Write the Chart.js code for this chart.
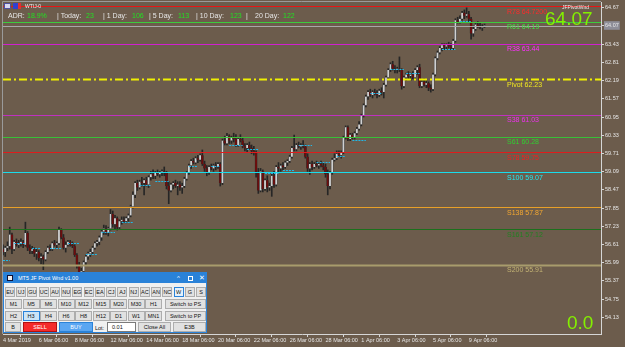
<!DOCTYPE html>
<html>
<head>
<meta charset="utf-8">
<script src="https://cdn.jsdelivr.net/npm/chart.js@4.4.1/dist/chart.umd.min.js"></script>
<style>
  html, body { margin: 0; padding: 0; background: #6c5c4c; }
  #wrap { position: relative; width: 625px; height: 347px; overflow: hidden; font-family: "Liberation Sans", Arial, sans-serif; }
  #chart { position: absolute; left: 0; top: 0; }
  .t { position: absolute; white-space: pre; line-height: 1; }
  .hdr { font-size: 7px; color: #e6e6e6; top: 12px; }
  .hdr.v { color: #22e022; }
  #panel { position: absolute; left: 3px; top: 272px; width: 204px; height: 61px; background: #f0f0f0; border: 1px solid #2a82d8; box-sizing: border-box; }
  #panel .bar { position: absolute; left: 0; top: 0; right: 0; height: 10px; background: #2a82d8; }
  #panel .btn { position: absolute; box-sizing: border-box; background: #e1e1e1; border: 1px solid #adadad; font-size: 5.5px; color: #111; text-align: center; display: flex; align-items: center; justify-content: center; white-space: nowrap; }
  #panel .sel { background: #e5f1fb; border-color: #2a82d8; }
  #panel .hi { background: #cce4f7; border-color: #2a82d8; }
  #panel .sell { background: #f52a2a; color: #fff; border-color: #b01010; }
  #panel .buy { background: #5aa6f2; color: #fff; border-color: #2a82d8; }
  #panel .inp { background: #fff; border-color: #7a7a7a; justify-content: flex-start; padding-left: 4px; }
  .big { position: absolute; color: #84f000; font-size: 19px; line-height: 1; }
</style>
</head>
<body>
<div id="wrap">
  <canvas id="chart" width="625" height="347"></canvas>

  <div class="t" style="left:4px;top:3px;width:7px;height:6px;background:#d8d8f0;border:1px solid #5050a0;box-sizing:border-box;"></div>
  <div class="t" style="left:13px;top:3px;width:8px;height:6px;background:#3040d0;border-right:3px solid #e03030;box-sizing:border-box;"></div>
  <div class="t" style="left:25px;top:4px;font-size:5px;color:#f0f0f0;">WTIJ-0</div>

  <div class="t hdr" style="left:8px;">ADR:</div>
  <div class="t hdr v" style="left:27px;">18.9%</div>
  <div class="t hdr" style="left:57px;">| Today:</div>
  <div class="t hdr v" style="left:86px;">23</div>
  <div class="t hdr" style="left:103px;">| 1 Day:</div>
  <div class="t hdr v" style="left:132px;">106</div>
  <div class="t hdr" style="left:149px;">| 5 Day:</div>
  <div class="t hdr v" style="left:178px;">113</div>
  <div class="t hdr" style="left:196px;">| 10 Day:</div>
  <div class="t hdr v" style="left:230px;">123</div>
  <div class="t hdr" style="left:246px;">|</div>
  <div class="t hdr" style="left:255px;">20 Day:</div>
  <div class="t hdr v" style="left:283px;">122</div>

  <div class="t" style="left:562px;top:5px;font-size:5px;color:#f0f0f0;">JFPivotWnd</div>
  <div class="big" style="left:545px;top:9px;">64.07</div>
  <div class="big" style="left:567px;top:313px;">0.0</div>

  <div id="panel">
    <div class="bar"></div>
    <div class="t" style="left:3px;top:2px;width:6px;height:6px;background:#f0f0f0;border:1px solid #113;box-sizing:border-box;"></div>
    <div class="t" style="left:14px;top:2.5px;font-size:5.5px;color:#fff;">MT5 JF Pivot Wnd v1.00</div>
    <div class="t" style="left:173px;top:2px;font-size:6px;color:#fff;">^</div>
    <div class="t" style="left:184px;top:2.5px;width:5px;height:5px;border:1px solid #fff;box-sizing:border-box;"></div>
    <div class="t" style="left:195px;top:1.5px;font-size:6.5px;color:#fff;">✕</div>
    <div class="t" style="left:91px;top:52.5px;font-size:5.5px;color:#111;">Lot:</div>
  </div>
</div>

<script>
// x axis: one slot per H3 bar, a tick label every 16 bars (2 trading days)
const slotCount = 268;
const barsPerTick = 16;
const xTickLabels = ['4 Mar 2019', '6 Mar 06:00', '8 Mar 06:00', '12 Mar 06:00', '14 Mar 06:00',
  '18 Mar 06:00', '20 Mar 06:00', '22 Mar 06:00', '26 Mar 06:00', '28 Mar 06:00',
  '1 Apr 06:00', '3 Apr 06:00', '5 Apr 06:00', '9 Apr 06:00'];

const yTicks = [54.13, 54.75, 55.37, 55.99, 56.61, 57.23, 57.85, 58.47, 59.09, 59.71,
  60.33, 60.95, 61.57, 62.19, 62.81, 63.43, 64.07, 64.67];
const lastPrice = 64.07;

// WTI H3 candles
const opens = [
  56.45,56.35,56.50,56.55,56.95,56.45,56.70,56.60, 56.65,56.70,56.60,57.00,56.50,56.40,56.45,56.30,
  56.35,56.15,56.20,56.10,56.35,56.50,56.45,56.65, 56.60,56.65,57.10,56.85,56.50,56.60,56.70,56.60,
  56.55,56.25,55.90,55.50,55.70,56.00,56.20,56.30, 56.35,56.50,56.65,56.70,56.85,57.05,57.15,57.00,
  57.15,57.65,57.30,57.50,57.20,57.40,57.45,57.40, 57.50,57.60,57.90,58.30,58.70,58.55,58.75,58.70,
  58.80,58.65,58.90,59.00,58.95,59.05,59.00,59.05, 59.10,59.05,58.60,58.45,58.65,58.70,58.60,58.65,
  58.55,58.60,58.85,59.05,59.30,59.45,59.40,59.55, 59.50,59.65,59.35,59.20,59.05,59.25,59.20,59.30,
  59.25,59.35,58.70,60.15,60.05,60.30,60.15,60.25, 60.20,60.00,60.20,60.15,59.95,59.90,60.00,59.90,
  59.80,59.75,59.05,58.45,59.10,58.50,58.80,58.55, 58.60,58.95,58.65,59.25,59.20,59.30,59.25,59.40,
  59.45,59.60,59.90,59.85,60.00,59.95,60.00,59.95, 59.60,59.20,59.35,59.25,59.35,59.30,59.35,59.30,
  59.25,59.00,58.60,59.05,59.50,59.55,59.70,59.65, 59.75,60.25,60.60,60.20,60.35,60.25,60.40,60.55,
  60.70,61.00,61.35,61.65,61.80,61.70,61.80,61.75, 61.70,61.85,61.80,62.05,62.30,62.55,62.75,62.60,
  62.55,62.60,62.55,62.00,62.30,62.40,62.35,62.40, 62.30,62.55,62.65,62.00,62.15,62.05,62.10,61.95,
  61.90,62.40,62.95,63.15,63.30,63.40,63.35,63.40, 63.35,63.30,63.55,64.25,64.20,64.30,64.50,64.40,
  64.45,64.30,63.80,63.95,64.10,64.05,64.00,64.05
];
const highs = [
  56.60,56.55,56.70,57.20,57.00,56.75,56.80,56.75, 56.80,56.75,57.37,57.05,56.60,56.55,56.50,56.45,
  56.40,56.30,56.25,56.40,56.55,56.60,56.70,56.75, 56.70,57.20,57.15,56.95,56.70,56.75,56.75,56.70,
  56.60,56.30,56.00,55.80,56.05,56.25,56.35,56.45, 56.55,56.70,56.75,56.90,57.10,57.27,57.25,57.20,
  57.80,57.75,57.60,57.55,57.45,57.55,57.55,57.55, 57.65,57.95,58.40,58.75,58.80,58.80,58.90,58.85,
  58.90,58.95,59.10,59.15,59.10,59.15,59.10,59.15, 59.25,59.10,58.75,58.70,58.75,58.80,58.75,58.75,
  58.70,58.90,59.10,59.35,59.50,59.55,59.60,59.65, 59.70,59.83,59.45,59.30,59.30,59.35,59.35,59.40,
  59.40,59.40,60.20,60.30,60.40,60.35,60.30,60.40, 60.35,60.25,60.35,60.25,60.05,60.05,60.10,60.00,
  59.95,59.80,59.20,59.20,59.15,58.85,58.95,58.70, 59.05,59.10,59.30,59.40,59.35,59.40,59.45,59.50,
  59.65,59.95,60.34,60.05,60.10,60.05,60.15,60.00, 59.70,59.40,59.45,59.40,59.45,59.40,59.45,59.40,
  59.35,59.15,59.10,59.55,59.70,59.80,59.80,59.80, 60.30,60.65,60.65,60.40,60.40,60.45,60.60,60.80,
  61.05,61.40,61.70,61.85,61.90,61.85,61.90,61.85, 61.90,61.95,62.10,62.35,62.60,62.80,62.85,62.70,
  62.65,63.00,62.60,62.35,62.45,62.50,62.45,62.50, 62.60,62.70,62.75,62.20,62.25,62.20,62.15,62.05,
  62.45,63.00,63.20,63.35,63.45,63.45,63.45,63.50, 63.45,63.60,64.30,64.35,64.40,64.55,64.60,64.67,
  64.55,64.35,64.05,64.15,64.20,64.15,64.10,64.12
];
const lows = [
  56.25,56.20,56.40,56.45,56.30,56.40,56.55,56.50, 56.55,56.50,56.55,56.40,56.30,56.30,56.20,56.10,
  56.05,55.95,55.75,56.05,56.30,56.40,56.40,56.55, 56.50,56.60,56.80,56.45,56.35,56.55,56.55,56.50,
  56.20,55.80,55.20,55.35,55.60,55.90,56.10,56.20, 56.30,56.45,56.55,56.60,56.75,56.95,56.95,56.90,
  57.10,57.20,57.15,57.10,57.15,57.30,57.35,57.35, 57.40,57.55,57.85,58.20,58.45,58.50,58.60,58.30,
  58.60,58.55,58.80,58.85,58.85,58.95,58.90,58.95, 58.95,58.50,58.00,58.40,58.50,58.55,58.30,58.45,
  58.35,58.55,58.80,59.00,59.20,59.35,59.35,59.40, 59.45,59.30,59.10,58.95,59.00,59.15,59.10,59.15,
  59.20,58.60,58.65,60.00,60.00,60.05,60.05,60.10, 59.95,59.95,60.10,59.90,59.80,59.75,59.85,59.70,
  59.65,58.90,58.35,58.40,58.40,58.45,58.40,58.45, 58.25,58.55,58.60,59.05,59.10,59.15,59.20,59.30,
  59.40,59.55,59.80,59.80,59.90,59.85,59.90,59.55, 59.10,59.00,59.15,59.20,59.25,59.20,59.25,59.15,
  58.90,58.30,58.50,59.00,59.45,59.50,59.60,59.55, 59.70,60.20,60.15,60.15,60.20,60.20,60.35,60.50,
  60.65,60.95,61.30,61.55,61.65,61.60,61.70,61.60, 61.65,61.70,61.60,62.00,62.25,62.50,62.55,62.45,
  62.45,62.50,61.90,61.95,62.20,62.25,62.20,62.25, 62.25,62.40,61.95,61.95,62.00,61.95,61.85,61.80,
  61.85,62.35,62.90,63.10,63.20,63.25,63.25,63.30, 63.25,63.25,63.50,64.15,64.15,64.25,64.30,64.35,
  64.20,63.60,63.70,63.90,64.00,63.95,63.90,64.00
];
const closes = [
  56.35,56.50,56.55,56.95,56.45,56.70,56.60,56.65, 56.70,56.60,57.00,56.50,56.40,56.45,56.30,56.35,
  56.15,56.20,56.10,56.35,56.50,56.45,56.65,56.60, 56.65,57.10,56.85,56.50,56.60,56.70,56.60,56.55,
  56.25,55.90,55.50,55.70,56.00,56.20,56.30,56.35, 56.50,56.65,56.70,56.85,57.05,57.15,57.00,57.15,
  57.65,57.30,57.50,57.20,57.40,57.45,57.40,57.50, 57.60,57.90,58.30,58.70,58.55,58.75,58.70,58.80,
  58.65,58.90,59.00,58.95,59.05,59.00,59.05,59.10, 59.05,58.60,58.45,58.65,58.70,58.60,58.65,58.55,
  58.60,58.85,59.05,59.30,59.45,59.40,59.55,59.50, 59.65,59.35,59.20,59.05,59.25,59.20,59.30,59.25,
  59.35,58.70,60.15,60.05,60.30,60.15,60.25,60.20, 60.00,60.20,60.15,59.95,59.90,60.00,59.90,59.80,
  59.75,59.05,58.45,59.10,58.50,58.80,58.55,58.60, 58.95,58.65,59.25,59.20,59.30,59.25,59.40,59.45,
  59.60,59.90,59.85,60.00,59.95,60.00,59.95,59.60, 59.20,59.35,59.25,59.35,59.30,59.35,59.30,59.25,
  59.00,58.60,59.05,59.50,59.55,59.70,59.65,59.75, 60.25,60.60,60.20,60.35,60.25,60.40,60.55,60.70,
  61.00,61.35,61.65,61.80,61.70,61.80,61.75,61.70, 61.85,61.80,62.05,62.30,62.55,62.75,62.60,62.55,
  62.60,62.55,62.00,62.30,62.40,62.35,62.40,62.30, 62.55,62.65,62.00,62.15,62.05,62.10,61.95,61.90,
  62.40,62.95,63.15,63.30,63.40,63.35,63.40,63.35, 63.30,63.55,64.25,64.20,64.30,64.50,64.40,64.45,
  64.30,63.80,63.95,64.10,64.05,64.00,64.05,64.07
];

// pivot levels
const levelLabels = ['R78 64.7200', 'R61 64.19', 'R38 63.44', 'Pivot 62.23', 'S38 61.03', 'S61 60.28',
  'S78 59.75', 'S100 59.07', 'S138 57.87', 'S161 57.12', 'S200 55.91'];
const levelValues = [64.72, 64.19, 63.44, 62.23, 61.03, 60.28, 59.75, 59.07, 57.87, 57.12, 55.91];

// short cyan dotted marks: start bar, end bar, price
const markStart = [0, 5, 13, 21, 29, 37, 44, 53, 61, 68, 83, 93, 101, 109, 117, 125, 132, 140, 149, 156, 164, 173, 180, 196, 204];
const markEnd   = [3, 10, 17, 26, 34, 42, 50, 58, 66, 74, 87, 97, 107, 114, 123, 130, 138, 146, 153, 162, 169, 179, 186, 202, 209];
const markValue = [56.07, 56.66, 56.49, 56.49, 56.66, 56.28, 57.03, 57.37, 58.63, 58.77, 59.28, 59.28, 60.00, 59.86,
  59.05, 59.15, 60.00, 59.42, 59.62, 60.17, 61.77, 62.58, 62.45, 63.27, 64.22];

// styles (kept apart from the data)
const levelLineColors = ['#e81414', '#3ccc3c', '#d020d0', '#f0f000', '#c030c0', '#38c038', '#e01c1c', '#18dcec', '#e8a028', '#1c701c', '#a89c6c'];
const levelTextColors = ['#ff2a2a', '#44e044', '#ff30ff', '#f0e820', '#f030f0', '#30d030', '#f02020', '#20eaf4', '#f4a830', '#228022', '#c4b474'];
const bullColor = '#d0d0d0';
const bearColor = '#6e0c0c';
const wickColor = '#262626';

const xLabels = [];
for (let i = 0; i < slotCount; i++) {
  xLabels.push(i % barsPerTick === 0 && i / barsPerTick < xTickLabels.length ? xTickLabels[i / barsPerTick] : '');
}

const overlay = {
  id: 'overlay',
  afterDatasetsDraw(chart) {
    const { ctx, chartArea: a, scales: { x, y } } = chart;
    ctx.save();
    ctx.beginPath();
    ctx.rect(a.left, a.top, a.right - a.left, a.bottom - a.top);
    ctx.clip();

    // cyan dotted marks
    ctx.strokeStyle = '#22b8e8';
    ctx.lineWidth = 1;
    ctx.setLineDash([2, 1]);
    for (let i = 0; i < markValue.length; i++) {
      const py = Math.round(y.getPixelForValue(markValue[i])) + 0.5;
      ctx.beginPath();
      ctx.moveTo(x.getPixelForValue(markStart[i]), py);
      ctx.lineTo(x.getPixelForValue(markEnd[i]), py);
      ctx.stroke();
    }

    // bid line
    ctx.setLineDash([]);
    ctx.strokeStyle = '#a8a8a8';
    const py = Math.round(y.getPixelForValue(lastPrice)) + 1.5;
    ctx.beginPath(); ctx.moveTo(a.left, py); ctx.lineTo(a.right, py); ctx.stroke();

    // pivot levels
    levelValues.forEach((v, i) => {
      const yy = Math.round(y.getPixelForValue(v)) + 0.5;
      ctx.strokeStyle = levelLineColors[i];
      ctx.lineWidth = (i === 10 || i === 3) ? 2 : 1;
      ctx.setLineDash(i === 3 ? [8, 3, 2, 3] : []);
      ctx.beginPath(); ctx.moveTo(a.left, yy); ctx.lineTo(a.right, yy); ctx.stroke();
    });
    ctx.setLineDash([]);
    ctx.font = '7px "Liberation Sans", Arial, sans-serif';
    ctx.textBaseline = 'middle';
    ctx.textAlign = 'left';
    levelValues.forEach((v, i) => {
      ctx.fillStyle = levelTextColors[i];
      ctx.fillText(levelLabels[i], 507, y.getPixelForValue(v) + 5.5);
    });
    ctx.restore();

    // frame
    ctx.save();
    ctx.strokeStyle = '#9a9a9a';
    ctx.lineWidth = 1;
    ctx.beginPath();
    ctx.moveTo(a.left - 0.5, a.bottom);
    ctx.lineTo(a.left - 0.5, a.top - 0.5);
    ctx.lineTo(a.right, a.top - 0.5);
    ctx.stroke();
    ctx.restore();
  }
};

Chart.defaults.font.family = '"Liberation Sans", Arial, sans-serif';

new Chart(document.getElementById('chart').getContext('2d'), {
  type: 'bar',
  data: {
    labels: xLabels,
    datasets: [{
      label: 'Body',
      data: opens.map((o, i) => [o, closes[i]]),
      backgroundColor: opens.map((o, i) => closes[i] >= o ? bullColor : bearColor),
      borderColor: '#2a2a2a',
      borderWidth: { left: 0.5, right: 0.5, top: 0, bottom: 0 },
      borderSkipped: false,
      barThickness: 2.2,
      grouped: false,
      order: 1
    }, {
      label: 'Wick',
      data: lows.map((l, i) => [l, highs[i]]),
      backgroundColor: wickColor,
      barThickness: 1,
      grouped: false,
      order: 2
    }]
  },
  options: {
    responsive: false,
    animation: false,
    devicePixelRatio: 1,
    events: [],
    layout: { padding: { left: 3, top: 2, right: 0, bottom: 0 } },
    plugins: {
      legend: { display: false },
      tooltip: { enabled: false }
    },
    scales: {
      x: {
        type: 'category',
        offset: false,
        grid: { display: true, drawOnChartArea: false, drawTicks: true, tickLength: 3, color: '#d6d6d6' },
        border: { display: true, color: '#d6d6d6' },
        ticks: { autoSkip: false, maxRotation: 0, minRotation: 0, align: 'start', padding: 0, color: '#e6e6e6', font: { size: 5.5 } },
        afterBuildTicks: s => { s.ticks = s.ticks.filter(t => xLabels[t.value] !== ''); },
        afterFit: s => { s.height = 13; s.paddingLeft = 0; s.paddingRight = 0; }
      },
      y: {
        type: 'linear',
        position: 'right',
        min: 53.56,
        max: 64.87,
        bounds: 'data',
        grid: { display: true, drawOnChartArea: false, drawTicks: true, tickLength: 3, color: '#d6d6d6' },
        border: { display: true, color: '#d6d6d6' },
        ticks: {
          color: '#e6e6e6',
          font: { size: 5.5 },
          padding: 1,
          callback: v => v.toFixed(2),
          showLabelBackdrop: true,
          backdropColor: c => (c.tick && c.tick.value === lastPrice) ? '#8e8e98' : 'rgba(0,0,0,0)',
          backdropPadding: 1
        },
        afterBuildTicks: s => { s.ticks = yTicks.map(v => ({ value: v })); },
        afterFit: s => { s.width = 24; s.paddingTop = 0; s.paddingBottom = 0; }
      }
    }
  },
  plugins: [overlay]
});

// control panel buttons
const panel = document.getElementById('panel');
function addBox(x, y, w, h, text, cls) {
  const d = document.createElement('div');
  d.className = 'btn' + (cls ? ' ' + cls : '');
  d.style.left = x + 'px';
  d.style.top = y + 'px';
  d.style.width = w + 'px';
  d.style.height = h + 'px';
  d.textContent = text;
  panel.appendChild(d);
}
const pairButtons = ['EU', 'UJ', 'GU', 'UC', 'AU', 'NU', 'EG', 'EC', 'EA', 'CJ', 'AJ', 'NJ', 'AC', 'AN', 'NC', 'W', 'G', 'S'];
const tfRow1 = ['M1', 'M5', 'M6', 'M10', 'M12', 'M15', 'M20', 'M30', 'H1'];
const tfRow2 = ['H2', 'H3', 'H4', 'H6', 'H8', 'H12', 'D1', 'W1', 'MN1'];
pairButtons.forEach((b, i) => addBox(1 + i * 11.24, 14, 10, 10, b, b === 'W' ? 'sel' : ''));
tfRow1.forEach((b, i) => addBox(1 + i * 17.5, 26, 17, 10, b));
addBox(161, 26, 41, 10, 'Switch to PS');
tfRow2.forEach((b, i) => addBox(1 + i * 17.5, 37.5, 17, 10, b, b === 'H3' ? 'hi' : ''));
addBox(161, 37.5, 41, 10, 'Switch to PP');
addBox(1, 49, 16, 10, 'B');
addBox(19, 49, 34, 10, 'SELL', 'sell');
addBox(55, 49, 34, 10, 'BUY', 'buy');
addBox(103, 49, 29, 10, '0.01', 'inp');
addBox(134, 49, 33, 10, 'Close All');
addBox(169, 49, 33, 10, 'E3B');
</script>
</body>
</html>
